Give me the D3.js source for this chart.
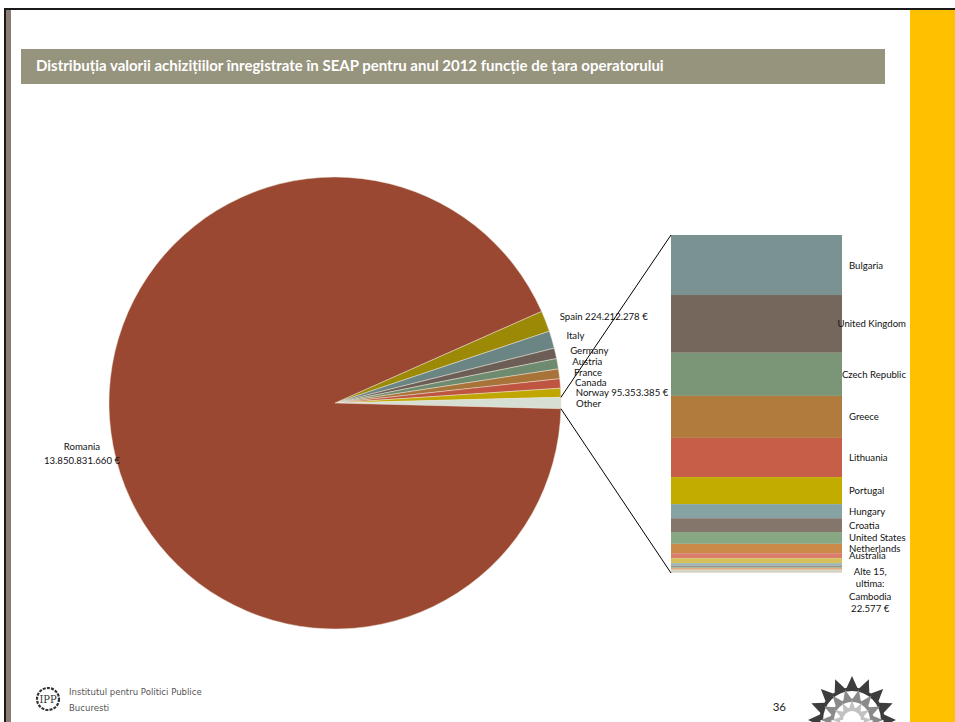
<!DOCTYPE html>
<html><head><meta charset="utf-8">
<script src="https://cdn.jsdelivr.net/npm/d3@7"></script>
<style>
body{margin:0;background:#fff;}
svg{display:block;font-family:Lato,"Open Sans",sans-serif;}
</style>
</head><body>
<svg id="c" width="955" height="722"></svg>
<script>
// ---------------- DATA ----------------
const titleText = "Distribuția valorii achizițiilor înregistrate în SEAP pentru anul 2012 funcție de țara operatorului";

// main pie (values in EUR); "Other" = sum of the secondary bar
const pieCategories = ["Spain", "Italy", "Germany", "Austria", "France", "Canada", "Norway", "Other", "Romania"];
const pieValues     = [224212278, 185000000, 112000000, 110000000, 104000000, 100000000, 95353385, null, 13850831660];
const pieShowValue  = [true, false, false, false, false, false, true, false, true];

// secondary bar ("Other" breakdown), values in EUR
const otherCategories = ["Bulgaria", "United Kingdom", "Czech Republic", "Greece", "Lithuania", "Portugal",
  "Hungary", "Croatia", "United States", "Netherlands", "Australia",
  null, null, null, null, null, null, null, null, null, null, null, null, null, null, "Cambodia"];
const otherValues = [21300000, 20500000, 15300000, 14900000, 13900000, 9600000,
  5000000, 4900000, 4200000, 3300000, 1800000,
  1750000, 960000, 410000, 360000, 310000, 280000, 250000, 210000, 190000, 160000, 120000, 100000, 70000, 50000, 22577];
const otherRestCount = 15;

// ---------------- STYLE ----------------
const pieColors = {
  Spain: "#9C8A06", Italy: "#6B8584", Germany: "#6C5E57", Austria: "#6F8B6F", France: "#A77339",
  Canada: "#BF5540", Norway: "#C0A700", Other: "#D5DFD3", Romania: "#9A4832"
};
const barColors = ["#7A9392", "#76675D", "#7A9677", "#B27B3E", "#C75E47", "#C2AC00",
  "#85A3A2", "#85766B", "#88A884", "#CC8A48", "#D97E6C", "#D6C05A",
  "#9DB5B5", "#A0928A", "#A3BC9F", "#DBA470", "#E3A092", "#E0D088",
  "#B9CCCC", "#BDB2AB", "#BFD2BD", "#E6C09C", "#EDBCB2", "#E8DCAA", "#CFCFCF", "#D8D0D0"];

const loc = d3.formatLocale({decimal: ",", thousands: ".", grouping: [3], currency: ["", " €"]});
const fmt = loc.format("$,.0f");

const svg = d3.select("#c");

// ---------------- PAGE FRAME ----------------
svg.append("rect").attr("x", 910).attr("y", 10).attr("width", 45).attr("height", 712).attr("fill", "#FFC000");
svg.append("rect").attr("x", 4).attr("y", 8).attr("width", 951).attr("height", 2).attr("fill", "#1a1a1a");
svg.append("rect").attr("x", 4).attr("y", 8).attr("width", 2).attr("height", 714).attr("fill", "#1a1a1a");
svg.append("rect").attr("x", 6).attr("y", 10).attr("width", 5).attr("height", 712).attr("fill", "#8B7D73");

// title bar
svg.append("rect").attr("x", 21).attr("y", 49).attr("width", 864).attr("height", 35).attr("fill", "#97947E");
svg.append("text").attr("x", 36).attr("y", 71).attr("fill", "#fff")
  .attr("font-weight", "bold").attr("font-size", 15).text(titleText);

// ---------------- PIE ----------------
const cx = 335, cy = 403, R = 226;
const otherSum = d3.sum(otherValues);
const pieData = pieCategories.map((c, i) => ({name: c, value: c === "Other" ? otherSum : pieValues[i], showValue: pieShowValue[i]}));
const total = d3.sum(pieData, d => d.value);
const oIdx = pieCategories.indexOf("Other");
const before = d3.sum(pieData.slice(0, oIdx), d => d.value);
const start = Math.PI / 2 - (before + pieData[oIdx].value / 2) / total * 2 * Math.PI;
const arcs = d3.pie().sort(null).value(d => d.value).startAngle(start).endAngle(start + 2 * Math.PI)(pieData);
const arcGen = d3.arc().innerRadius(0).outerRadius(R);

const gPie = svg.append("g").attr("transform", `translate(${cx},${cy})`);
gPie.selectAll("path").data(arcs).join("path")
  .attr("d", arcGen)
  .attr("fill", d => pieColors[d.data.name])
  .attr("stroke", "#EDE6D6").attr("stroke-width", 0.6).attr("stroke-opacity", 0.8);

// labels
arcs.forEach(a => {
  const mid = (a.startAngle + a.endAngle) / 2;
  const txt = a.data.showValue ? a.data.name + " " + fmt(a.data.value) : a.data.name;
  if (a.data.name === "Romania") {
    const rr = R + 32;
    const x = Math.sin(mid) * rr, y = -Math.cos(mid) * rr;
    const t = gPie.append("text").attr("text-anchor", "middle").attr("font-size", 9.6).attr("fill", "#111");
    t.append("tspan").attr("x", x).attr("y", y - 7).attr("dominant-baseline", "central").text(a.data.name);
    t.append("tspan").attr("x", x).attr("y", y + 7).attr("dominant-baseline", "central").text(fmt(a.data.value));
  } else {
    const rr = R + 14;
    const x = Math.sin(mid) * rr + 1, y = -Math.cos(mid) * rr;
    gPie.append("text").attr("x", x).attr("y", y).attr("dominant-baseline", "central")
      .attr("font-size", 9.6).attr("fill", "#111").text(txt);
  }
});

// ---------------- SECONDARY BAR ----------------
const barX0 = 671, barX1 = 842, barTop = 235, barBot = 573;
const yS = d3.scaleLinear().domain([0, otherSum]).range([barTop, barBot]);
const cum = [0, ...d3.cumsum(otherValues)];
const gBar = svg.append("g");
gBar.selectAll("rect").data(otherValues).join("rect")
  .attr("x", barX0).attr("width", barX1 - barX0)
  .attr("y", (d, i) => yS(cum[i]))
  .attr("height", (d, i) => yS(cum[i + 1]) - yS(cum[i]))
  .attr("fill", (d, i) => barColors[i % barColors.length]);

// connector lines
const oArc = arcs[oIdx];
const p1 = [cx + R * Math.sin(oArc.startAngle), cy - R * Math.cos(oArc.startAngle)];
const p2 = [cx + R * Math.sin(oArc.endAngle), cy - R * Math.cos(oArc.endAngle)];
svg.append("line").attr("x1", p1[0]).attr("y1", p1[1]).attr("x2", barX0).attr("y2", yS(0))
  .attr("stroke", "#000").attr("stroke-width", 1);
svg.append("line").attr("x1", p2[0]).attr("y1", p2[1]).attr("x2", barX0).attr("y2", yS(otherSum))
  .attr("stroke", "#000").attr("stroke-width", 1);

// bar labels
const labX = barX1 + 7, labMaxX = 906;
otherCategories.forEach((name, i) => {
  if (!name || i === otherCategories.length - 1) return;
  const yc = (yS(cum[i]) + yS(cum[i + 1])) / 2;
  const t = gBar.append("text").attr("x", labX).attr("y", yc).attr("dominant-baseline", "central")
    .attr("font-size", 9.6).attr("fill", "#111").text(name);
  const w = t.node().getComputedTextLength();
  if (labX + w > labMaxX) t.attr("x", labMaxX - w);
});
// last label: "Alte 15, ultima: Cambodia 22.577 €"
const lastI = otherCategories.length - 1;
const lastLines = [`Alte ${otherRestCount},`, "ultima:", otherCategories[lastI], fmt(otherValues[lastI])];
const gLast = gBar.append("g");
const lt = lastLines.map((s, k) => gLast.append("text").attr("y", yS(otherSum) - 2 + k * 12.6)
  .attr("dominant-baseline", "central").attr("text-anchor", "middle")
  .attr("font-size", 9.6).attr("fill", "#111").text(s));
const maxW = d3.max(lt, t => t.node().getComputedTextLength());
lt.forEach(t => t.attr("x", labX + maxW / 2));

// ---------------- FOOTER ----------------
const gL = svg.append("g").attr("transform", "translate(48,699)");
gL.append("circle").attr("r", 11).attr("fill", "none").attr("stroke", "#333").attr("stroke-width", 2.2)
  .attr("stroke-dasharray", "3 1.2");
gL.append("text").attr("text-anchor", "middle").attr("y", 4).attr("font-size", 11)
  .attr("font-family", "'DejaVu Serif Condensed','DejaVu Serif',serif").attr("fill", "#333").text("IPP");
svg.append("text").attr("x", 69).attr("y", 695).attr("font-size", 9.5)
  .attr("font-family", "'DejaVu Sans Condensed','DejaVu Sans',sans-serif").attr("font-weight", 200)
  .attr("fill", "#555").text("Institutul pentru Politici Publice");
svg.append("text").attr("x", 69).attr("y", 711).attr("font-size", 9.5)
  .attr("font-family", "'DejaVu Sans Condensed','DejaVu Sans',sans-serif")
  .attr("fill", "#555").text("Bucuresti");
svg.append("text").attr("x", 786).attr("y", 711).attr("text-anchor", "end").attr("font-size", 11.5)
  .attr("fill", "#222").text("36");

// decorative dome logo
const gD = svg.append("g").attr("transform", "translate(852,720)");
const rings = [{r: 44, w: 12, n: 8, c: "#3d3d3d"}, {r: 31, w: 10, n: 7, c: "#8a8a8a"}, {r: 20, w: 8, n: 6, c: "#c2c2c2"}];
rings.forEach(rg => {
  for (let k = 0; k <= rg.n; k++) {
    const a = -Math.PI / 2 + Math.PI * k / rg.n;
    const da = Math.PI / rg.n / 2.2;
    const pt = (ang, rad) => [Math.sin(ang) * rad, -Math.cos(ang) * rad];
    const apex = pt(a, rg.r), b1 = pt(a - da, rg.r - rg.w), b2 = pt(a + da, rg.r - rg.w);
    gD.append("path").attr("d", `M${apex}L${b1}L${b2}Z`).attr("fill", rg.c);
  }
  gD.append("path").attr("d", d3.arc().innerRadius(rg.r - rg.w - 3).outerRadius(rg.r - rg.w + 0.5)
    .startAngle(-Math.PI / 2).endAngle(Math.PI / 2)()).attr("fill", rg.c);
});
</script>
</body></html>
